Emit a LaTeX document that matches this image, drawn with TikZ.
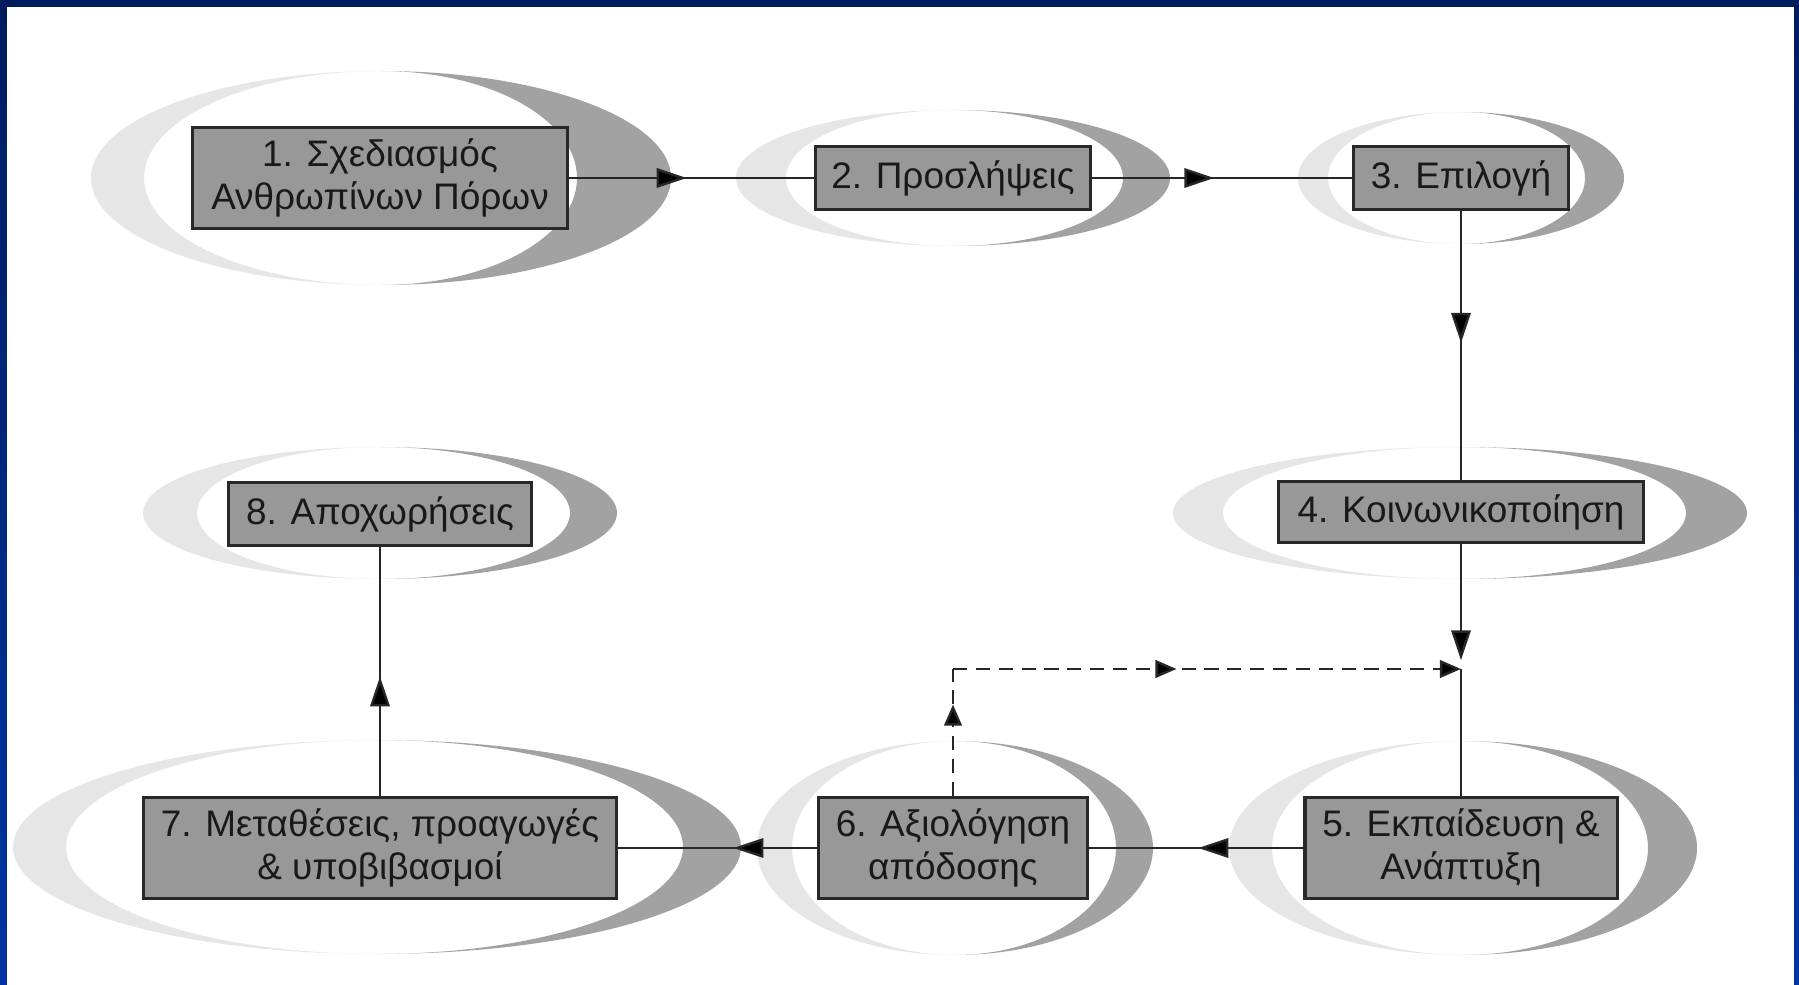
\documentclass[tikz,border=0pt]{standalone}
\usepackage{fontspec}
\setmainfont{Liberation Sans}
\usepackage{xcolor}
\usetikzlibrary{arrows.meta,decorations.markings}

\definecolor{frametop}{RGB}{0,28,92}
\definecolor{framebot}{RGB}{0,52,164}
\definecolor{boxgray}{RGB}{152,152,152}
\definecolor{boxline}{RGB}{40,40,40}
\definecolor{swlight}{RGB}{230,230,230}
\definecolor{swdark}{RGB}{162,162,162}

% swoosh behind a box: cx, cy, rx, ry, inner rx (light), inner rx (dark), all in px
\newcommand{\swoosh}[6]{%
  \fill[swlight] (#1,#2-#4) arc[start angle=90, end angle=270, x radius=#3*0.01cm, y radius=#4*0.01cm]
    arc[start angle=270, end angle=90, x radius=#5*0.01cm, y radius=#4*0.01cm] -- cycle;
  \fill[swdark] (#1,#2-#4) arc[start angle=90, end angle=-90, x radius=#3*0.01cm, y radius=#4*0.01cm]
    arc[start angle=-90, end angle=90, x radius=#6*0.01cm, y radius=#4*0.01cm] -- cycle;
}

\begin{document}
\begin{tikzpicture}[x=0.01cm, y=-0.01cm, line width=0.7pt,
  stage/.style={draw=boxline, line width=0.9pt, fill=boxgray, align=center, inner sep=0pt,
    text=black!90, font=\fontsize{10.5}{12.2}\selectfont},
  conn/.style={draw=black!85},
  midarrow/.style={postaction={decorate}, decoration={markings,
    mark=at position #1 with {\arrow{Triangle[length=8.5pt, width=5.5pt]}}}},
  smallarrow/.style={postaction={decorate}, decoration={markings,
    mark=at position #1 with {\arrow{Triangle[length=6pt, width=5pt]}}}}]
\useasboundingbox (0,0) rectangle (1799,985);
\shade[top color=frametop, bottom color=framebot] (0,0) rectangle (1799,985);
\fill[white] (7,7) rectangle (1794,985);

\swoosh{381}{178}{290}{107}{237}{196}
\swoosh{953}{178}{217}{68}{167}{170}
\swoosh{1461}{178}{163}{66}{133}{124}
\swoosh{1460}{513}{287}{66}{237}{226}
\swoosh{1463}{848}{234}{107}{191}{185}
\swoosh{955}{848}{198}{107}{163}{161}
\swoosh{377}{847}{364}{107}{311}{306}
\swoosh{380}{513}{237}{66}{183}{190}

\node[stage, minimum width=3.75cm, minimum height=1.01cm] (plan) at (380,178) {1. Σχεδιασμός\\Ανθρωπίνων Πόρων};
\node[stage, minimum width=2.75cm, minimum height=0.63cm] (hire) at (953,178) {2. Προσλήψεις};
\node[stage, minimum width=2.15cm, minimum height=0.63cm] (select) at (1461,178) {3. Επιλογή};
\node[stage, minimum width=3.64cm, minimum height=0.61cm] (social) at (1461,512) {4. Κοινωνικοποίηση};
\node[stage, minimum width=3.12cm, minimum height=1.01cm] (train) at (1461,848) {5. Εκπαίδευση \&\\Ανάπτυξη};
\node[stage, minimum width=2.69cm, minimum height=1.01cm] (apprais) at (953,848) {6. Αξιολόγηση\\απόδοσης};
\node[stage, minimum width=4.73cm, minimum height=1.01cm] (move) at (380,848) {7. Μεταθέσεις, προαγωγές\\\& υποβιβασμοί};
\node[stage, minimum width=3.02cm, minimum height=0.63cm] (exit) at (380,514) {8. Αποχωρήσεις};

\coordinate (junc) at (1461,669);
\coordinate (corner) at (953,669);

\path[conn]
(plan) edge [midarrow=0.48] (hire)
(hire) edge [midarrow=0.47] (select)
(select) edge [midarrow=0.49] (social)
(social) edge [-{Triangle[length=8.5pt, width=5.5pt]}, shorten >=2.5pt] (junc)
(junc) edge (train)

(train) edge [midarrow=0.49] (apprais)
(apprais) edge [midarrow=0.42] (move)
(move) edge [midarrow=0.48] (exit)

(apprais) edge [dashed, dash pattern=on 4pt off 2.5pt, smallarrow=0.72] (corner)
(corner) edge [dashed, dash pattern=on 4pt off 2.5pt, smallarrow=0.44, -{Triangle[length=6pt, width=5pt]}] (junc);
\end{tikzpicture}
\end{document}
